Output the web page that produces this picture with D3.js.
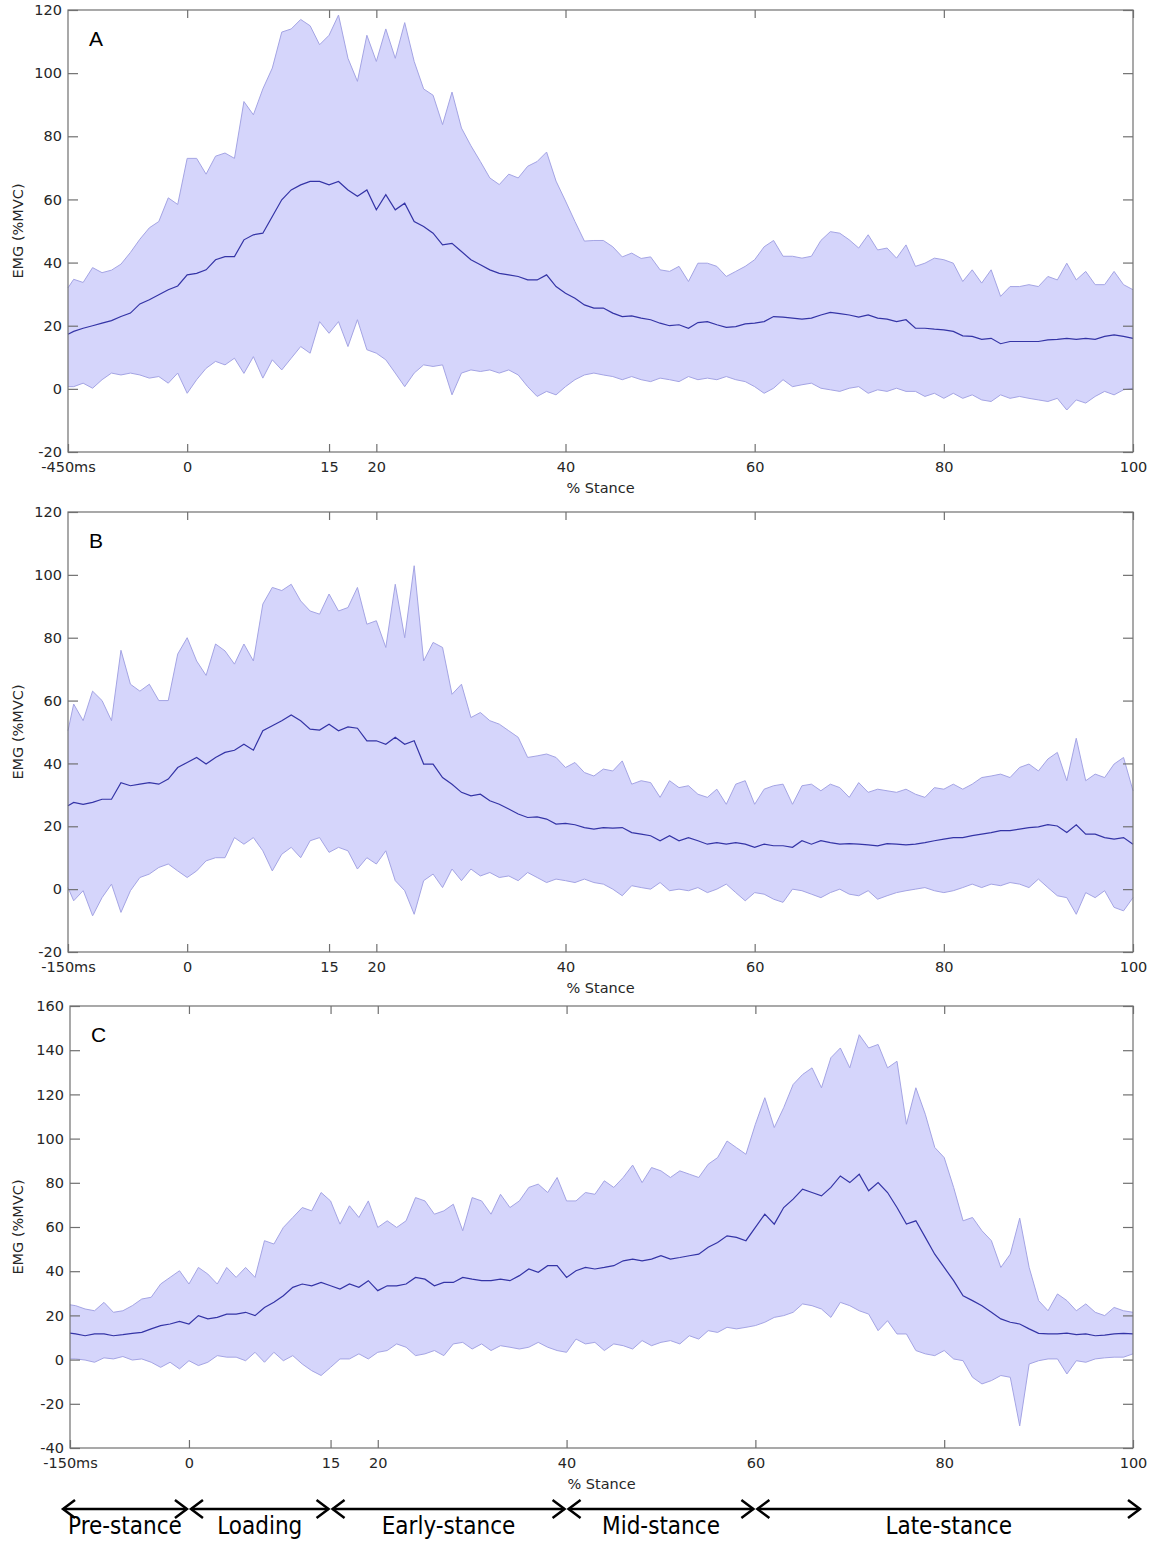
<!DOCTYPE html>
<html>
<head>
<meta charset="utf-8">
<script src="https://cdn.jsdelivr.net/npm/d3@7"></script>
<style>
  body { margin: 0; background: #fff; }
  svg { display: block; }
</style>
</head>
<body>
<div id="chart"></div>
<script>

// sample positions along the stride, % stance (first one is the pre-stance start)
var stance = [-12.6].concat(d3.range(-12, 101))

var xTicks = [0, 15, 20, 40, 60, 80, 100]
var yTicksAB = [-20, 0, 20, 40, 60, 80, 100, 120]
var yTicksC = [-40, -20, 0, 20, 40, 60, 80, 100, 120, 140, 160]

var phaseNames = ['Pre-stance', 'Loading', 'Early-stance', 'Mid-stance', 'Late-stance']
var phaseBounds = [-12.6, 0, 15, 40, 60, 100]

// panel A  (rows of 10: -12.6,-12..-4 | -3..6 | 7..16 | ... | 97..100)
var upperA = [
    32, 34.7, 33.7, 38.4, 36.8, 37.6, 39.5, 43.2, 47.4, 51,
    53, 60.5, 58.4, 73, 73, 68, 73.7, 74.7, 73, 91,
    86.8, 95, 101.6, 113, 114, 117, 115, 109, 112, 118.4,
    104.7, 97.4, 112, 103.7, 114, 104.7, 116, 103.7, 95, 93,
    83.7, 94, 82.6, 77, 72, 66.8, 64.7, 68, 66.8, 70.5,
    72, 75, 65.8, 59.5, 53, 46.8, 47, 47, 45, 41.8,
    43, 41.3, 41.8, 37.7, 37.2, 38.8, 34, 39.8, 39.8, 38.8,
    35.6, 37.2, 38.8, 40.9, 45, 47, 42, 42, 41.4, 42,
    47, 49.8, 49.3, 47.2, 44.6, 48.8, 44, 44.6, 41.4, 45.6,
    38.8, 39.8, 41.4, 40.9, 39.8, 34, 37.7, 33.5, 37.7, 29.3,
    32.4, 32.4, 33, 32.4, 35.6, 34.5, 39.8, 34.5, 37.2, 33,
    33, 37.2, 33, 31.4
]
var meanA = [
    17.3, 18.2, 19.2, 20, 20.8, 21.6, 22.9, 24, 26.9, 28.2,
    29.8, 31.4, 32.6, 36.1, 36.6, 37.7, 40.9, 41.9, 41.9, 47.2,
    48.8, 49.3, 54.6, 59.9, 63, 64.6, 65.7, 65.7, 64.6, 65.7,
    63, 61, 63, 56.7, 61.5, 56.7, 58.8, 53, 51.4, 49.3,
    45.6, 46.1, 43.5, 40.9, 39.3, 37.7, 36.6, 36.1, 35.6, 34.5,
    34.5, 36.1, 32.4, 30.3, 28.7, 26.6, 25.6, 25.6, 24, 22.9,
    23.1, 22.4, 21.9, 20.8, 20, 20.3, 19.2, 21, 21.3, 20.3,
    19.5, 19.7, 20.6, 20.8, 21.3, 22.9, 22.7, 22.4, 22.1, 22.4,
    23.4, 24.2, 23.8, 23.4, 22.7, 23.4, 22.4, 22.1, 21.3, 21.9,
    19.2, 19.2, 18.9, 18.7, 18.2, 16.8, 16.6, 15.7, 16, 14.3,
    15, 15, 15, 15, 15.5, 15.7, 16, 15.7, 16, 15.7,
    16.6, 17.1, 16.6, 16
]
var lowerA = [
    0.7, 0.7, 1.8, 0.2, 2.9, 5, 4.4, 5, 4.4, 3.4,
    3.9, 1.8, 5, -1.4, 2.9, 6.5, 8.7, 7.6, 9.7, 4.9,
    10.2, 3.4, 9.2, 6, 9.7, 13.4, 11.3, 21.3, 17.6, 21.3,
    13.4, 21.9, 12.4, 11.3, 9.2, 5, 0.7, 5, 7.6, 7.1,
    7.6, -1.9, 5, 6, 5.5, 6, 5, 6, 4.4, 0.7,
    -2.4, -0.8, -1.9, 0.7, 2.9, 4.4, 5, 4.4, 3.9, 2.9,
    3.9, 2.9, 2.3, 3.4, 2.9, 2.3, 3.9, 2.9, 3.4, 2.9,
    3.9, 2.9, 2.3, 0.7, -1.4, 0.2, 2.9, 0.7, 1.3, 1.8,
    0.2, -0.3, -0.8, 0.2, 0.7, -1.4, -0.3, -0.8, 0.2, -0.8,
    -0.8, -2.4, -1.4, -3, -1.4, -3, -1.9, -3.5, -4, -1.9,
    -3, -2.4, -3, -3.5, -4, -3, -6.7, -3.5, -4.5, -2.4,
    -0.8, -1.9, -0.3, 0.2
]

// panel B
var upperB = [
    50.4, 58.9, 53.6, 63, 60, 53.6, 76, 65.2, 63, 65.2,
    60, 60, 74.8, 80, 72.6, 68, 78, 75.8, 71.6, 78,
    72.6, 90.7, 96, 95, 97, 91.7, 88.5, 87.5, 93.9, 88.5,
    89.6, 96, 84.3, 85.4, 76.9, 97, 80, 102.9, 72.6, 78.5,
    76.9, 62, 65.2, 54.6, 56.2, 53.6, 52.5, 50.4, 48.3, 41.9,
    42.4, 43, 41.9, 38.7, 40.3, 37.1, 36, 38.2, 37.6, 40.8,
    33.4, 34.5, 33.9, 29.2, 34.5, 32.3, 32.9, 30.2, 29.2, 31.8,
    27, 33.4, 34.5, 27, 31.8, 32.9, 33.4, 27, 32.9, 33.4,
    31.3, 33.4, 32.3, 29.2, 33.9, 30.8, 31.8, 31.3, 30.8, 31.8,
    30.2, 29.2, 32.3, 31.8, 33.4, 31.8, 33.4, 35.5, 36, 36.6,
    35.5, 38.7, 39.8, 37.6, 41.4, 43.5, 34.5, 48, 34.5, 36.6,
    35.5, 39.8, 41.9, 31.3
]
var meanB = [
    26.5, 27.6, 27, 27.6, 28.6, 28.6, 33.9, 32.9, 33.4, 33.9,
    33.4, 35, 38.7, 40.3, 41.9, 39.8, 41.9, 43.5, 44.2, 46.1,
    44.2, 50.4, 52, 53.6, 55.4, 53.6, 50.9, 50.6, 52.5, 50.4,
    51.6, 51.2, 47.2, 47.2, 46.1, 48.3, 46.1, 47.2, 39.8, 39.8,
    35.5, 33.4, 30.8, 29.7, 30.2, 28.1, 27, 25.5, 23.9, 22.8,
    23, 22.3, 20.7, 20.9, 20.5, 19.6, 19.1, 19.6, 19.4, 19.6,
    18, 17.5, 17, 15.4, 17, 15.4, 16.4, 15.4, 14.3, 14.8,
    14.3, 14.8, 14.3, 13.3, 14.3, 13.8, 13.8, 13.3, 15.4, 14.3,
    15.4, 14.8, 14.3, 14.5, 14.3, 14.1, 13.8, 14.5, 14.3, 14.1,
    14.3, 14.8, 15.4, 15.9, 16.4, 16.4, 17, 17.5, 18, 18.6,
    18.6, 19.1, 19.6, 19.8, 20.5, 20.1, 18, 20.5, 17.5, 17.5,
    16.4, 15.9, 16.4, 14.3
]
var lowerB = [
    0.5, -3.7, -0.5, -8.5, -2.7, 1.6, -7.4, -0.5, 3.7, 4.8,
    6.9, 8, 5.8, 3.7, 5.8, 9, 10, 10, 16.4, 14.3,
    16.4, 12.2, 5.8, 11.1, 13.3, 10, 15.4, 16.4, 11.7, 13.3,
    12.2, 6.4, 10, 8, 12.2, 2.7, -0.5, -8, 2.7, 4.8,
    0.5, 6.4, 2.7, 6.4, 4.2, 5.3, 3.7, 4.2, 2.7, 5.3,
    3.7, 2.1, 3.2, 2.7, 2.1, 3.2, 2.1, 1.6, 0, -2.1,
    1.1, 0.5, 0, 2.1, -0.5, 0, -0.5, 0.5, -1.1, 0,
    1.6, -1.1, -3.7, -1.1, -1.6, -3.2, -4.2, 0, -0.5, -1.6,
    -2.7, -1.1, 0, -1.6, -2.1, -0.5, -3.2, -2.1, -1.1, -0.5,
    0, 0.5, -0.5, -1.1, -0.5, 0.5, 1.6, 0.5, 1.6, 1.1,
    2.1, 1.6, 0.5, 3.2, 0.5, -2.1, -2.7, -8, -1.1, -2.7,
    -0.5, -5.8, -6.9, -2.7
]

// panel C
var upperC = [
    24.8, 24.4, 22.9, 22.1, 25.9, 21.4, 22.1, 24.4, 27.4, 28.2,
    34.2, 37.2, 40.2, 34.2, 41.7, 38.7, 34.2, 41.7, 37.2, 41.7,
    37.2, 53.8, 52.3, 59.8, 64.3, 68.8, 67.3, 75.6, 71.8, 61.3,
    69.6, 64.3, 71.8, 59.8, 62.8, 59.8, 62.8, 73.3, 71.8, 65.8,
    67.3, 70.3, 58.3, 73.3, 71.8, 65.8, 74.8, 68.8, 71.8, 77.9,
    79.4, 75.6, 82.4, 71.8, 71.8, 75.6, 74.8, 80.9, 77.9, 82.4,
    88, 80.1, 86.9, 85.4, 82.4, 85.4, 83.9, 82.4, 88.4, 91.4,
    98.9, 95.9, 92.9, 106.5, 118.5, 105, 114, 124.5, 129, 132,
    123, 136.6, 141, 132, 147, 141, 142.6, 132, 135, 106.5,
    123, 111, 96, 91.4, 77.9, 62.8, 64.3, 58.3, 53.8, 41.7,
    47.7, 64, 41.7, 26.7, 22.1, 29.7, 26.7, 22.1, 25.2, 21.4,
    19.9, 23.6, 22.1, 21.4
]
var meanC = [
    12, 11.6, 10.8, 11.6, 11.6, 10.8, 11.3, 11.9, 12.3, 13.9,
    15.4, 16.1, 17.3, 16.1, 19.9, 18.4, 19.1, 20.6, 20.6, 21.4,
    19.9, 23.6, 25.9, 28.9, 32.7, 34.2, 33.4, 34.9, 33.4, 31.9,
    34.2, 32.7, 35.7, 31.2, 33.4, 33.4, 34.2, 37.2, 36.4, 33.4,
    34.9, 34.9, 37.2, 36.4, 35.7, 35.7, 36.4, 35.7, 38, 41,
    39.5, 42.5, 42.5, 37.2, 40.2, 41.7, 41, 41.7, 42.5, 44.7,
    45.5, 44.7, 45.5, 47, 45.5, 46.2, 47, 47.7, 50.8, 53,
    56, 55.3, 53.8, 59.8, 65.8, 61.3, 68.8, 72.6, 77.1, 75.6,
    74.1, 77.9, 83.1, 80.1, 83.9, 76.4, 80.1, 75.6, 68.8, 61.3,
    62.8, 55.3, 47.7, 41.7, 35.7, 28.9, 26.7, 24.4, 21.4, 18.4,
    16.9, 16.1, 13.9, 11.9, 11.6, 11.6, 12, 11.3, 11.6, 10.8,
    11.1, 11.6, 11.9, 11.6
]
var lowerC = [
    0.3, 0.3, -0.2, -1.2, 0.8, 0.3, 1.4, -0.2, 0.3, -1.2,
    -3.5, -1.2, -4.2, -0.5, -2.7, -1.2, 1.8, 1.1, 1.1, -0.5,
    3.3, -1.2, 3.3, -0.5, 1.8, -2, -5, -7.2, -3.5, 0.3,
    0.3, 2.6, 0.3, 3.3, 4.1, 7.1, 5.6, 1.8, 2.6, 4.1,
    1.8, 7.1, 7.8, 4.8, 7.1, 4.1, 6.3, 5.6, 4.8, 5.6,
    7.8, 5.6, 4.1, 3.3, 9.3, 7.1, 7.8, 4.1, 7.1, 6.3,
    4.8, 8.6, 6.3, 7.8, 8.6, 7.1, 10.8, 9.3, 13.1, 12.3,
    14.6, 13.9, 14.6, 15.4, 16.9, 19.1, 19.9, 21.4, 25.2, 24.4,
    22.9, 19.1, 25.9, 24.4, 22.1, 20.6, 13.1, 17.6, 11.6, 11.6,
    4.1, 2.6, 1.8, 4.1, 0.3, -0.5, -8, -11, -9.5, -7.2,
    -8, -30, -2, -0.5, 0.3, 0.3, -6.5, -0.5, -1.2, 0.3,
    0.8, 1.1, 1.1, 2.6
]

var width = 1151
var height = 1542

var panels = [
    { key: 'A', pre: '-450ms', yTicks: yTicksAB, upper: upperA, mean: meanA, lower: lowerA,
      left: 68, right: 1133, top: 10, bottom: 452 },
    { key: 'B', pre: '-150ms', yTicks: yTicksAB, upper: upperB, mean: meanB, lower: lowerB,
      left: 68, right: 1133, top: 512, bottom: 952 },
    { key: 'C', pre: '-150ms', yTicks: yTicksC, upper: upperC, mean: meanC, lower: lowerC,
      left: 70, right: 1133, top: 1006, bottom: 1448 }
]

var axisGrey = '#707070'
var textColor = '#262626'
var tickFont = '"DejaVu Sans", sans-serif'

var svg = d3.select('#chart')
    .append('svg')
    .attr('width', width)
    .attr('height', height)

svg.append('rect')
    .attr('width', width)
    .attr('height', height)
    .attr('fill', '#fff')

var lastX

panels.forEach(function(p) {

    var x = d3.scaleLinear()
        .domain([stance[0], 100])
        .range([p.left, p.right])

    var y = d3.scaleLinear()
        .domain([p.yTicks[0], p.yTicks[p.yTicks.length - 1]])
        .range([p.bottom, p.top])

    lastX = x

    var idx = d3.range(stance.length)
    var g = svg.append('g').attr('class', 'panel panel' + p.key)

    var band = d3.area()
        .x(function(i) { return x(stance[i]) })
        .y0(function(i) { return y(p.lower[i]) })
        .y1(function(i) { return y(p.upper[i]) })

    var edge = function(arr) {
        return d3.line()
            .x(function(i) { return x(stance[i]) })
            .y(function(i) { return y(arr[i]) })
    }

    g.append('path')
        .datum(idx)
        .attr('d', band)
        .attr('fill', '#d5d5fb')

    g.append('path')
        .datum(idx)
        .attr('d', edge(p.upper))
        .attr('fill', 'none')
        .attr('stroke', '#a4a4e4')
        .attr('stroke-width', 1)

    g.append('path')
        .datum(idx)
        .attr('d', edge(p.lower))
        .attr('fill', 'none')
        .attr('stroke', '#a4a4e4')
        .attr('stroke-width', 1)

    g.append('path')
        .datum(idx)
        .attr('d', edge(p.mean))
        .attr('fill', 'none')
        .attr('stroke', '#3434a6')
        .attr('stroke-width', 1.2)

    // box
    g.append('rect')
        .attr('x', p.left)
        .attr('y', p.top)
        .attr('width', p.right - p.left)
        .attr('height', p.bottom - p.top)
        .attr('fill', 'none')
        .attr('stroke', axisGrey)
        .attr('stroke-width', 1.2)

    var xAll = [stance[0]].concat(xTicks)

    var bottomAxis = d3.axisBottom(x)
        .tickValues(xAll)
        .tickSizeInner(-8)
        .tickSizeOuter(0)
        .tickPadding(10)
        .tickFormat(function(d) { return d === stance[0] ? p.pre : String(d) })

    var topAxis = d3.axisTop(x)
        .tickValues(xTicks)
        .tickSizeInner(-8)
        .tickSizeOuter(0)
        .tickFormat('')

    var leftAxis = d3.axisLeft(y)
        .tickValues(p.yTicks)
        .tickSizeInner(-10)
        .tickSizeOuter(0)
        .tickPadding(6)
        .tickFormat(function(d) { return String(d) })

    var rightAxis = d3.axisRight(y)
        .tickValues(p.yTicks)
        .tickSizeInner(-10)
        .tickSizeOuter(0)
        .tickFormat('')

    var axes = [
        g.append('g').attr('transform', 'translate(0,' + p.bottom + ')').call(bottomAxis),
        g.append('g').attr('transform', 'translate(0,' + p.top + ')').call(topAxis),
        g.append('g').attr('transform', 'translate(' + p.left + ',0)').call(leftAxis),
        g.append('g').attr('transform', 'translate(' + p.right + ',0)').call(rightAxis)
    ]

    axes.forEach(function(a) {
        a.select('.domain').remove()
        a.selectAll('.tick line').attr('stroke', axisGrey).attr('stroke-width', 1.2)
        a.selectAll('.tick text')
            .attr('fill', textColor)
            .style('font-family', tickFont)
            .style('font-size', '14.5px')
    })

    g.append('text')
        .attr('x', (p.left + p.right) / 2)
        .attr('y', p.bottom + 41)
        .attr('text-anchor', 'middle')
        .attr('fill', textColor)
        .style('font-family', tickFont)
        .style('font-size', '14.5px')
        .text('% Stance')

    g.append('text')
        .attr('transform', 'translate(18,' + (p.top + p.bottom) / 2 + ') rotate(-90)')
        .attr('text-anchor', 'middle')
        .attr('dy', '0.35em')
        .attr('fill', textColor)
        .style('font-family', tickFont)
        .style('font-size', '14.5px')
        .text('EMG (%MVC)')

    g.append('text')
        .attr('x', p.left + 21)
        .attr('y', p.top + 36)
        .attr('fill', '#000')
        .style('font-family', '"Liberation Sans", Arial, sans-serif')
        .style('font-size', '21px')
        .text(p.key)
})

// gait phase arrows under the last panel
var arrowY = 1509
var head = 12
var arrows = svg.append('g').attr('class', 'phases')

phaseNames.forEach(function(name, i) {
    var x0 = lastX(phaseBounds[i]) + 2
    var x1 = lastX(phaseBounds[i + 1]) - 2
    if (i === 0) x0 = lastX(phaseBounds[0]) - 7
    if (i === phaseNames.length - 1) x1 = lastX(phaseBounds[i + 1]) + 7

    arrows.append('line')
        .attr('x1', x0).attr('x2', x1)
        .attr('y1', arrowY).attr('y2', arrowY)
        .attr('stroke', '#000')
        .attr('stroke-width', 2.5)

    arrows.append('path')
        .attr('d', 'M' + (x0 + head) + ',' + (arrowY - 9) + 'L' + x0 + ',' + arrowY + 'L' + (x0 + head) + ',' + (arrowY + 9))
        .attr('fill', 'none')
        .attr('stroke', '#000')
        .attr('stroke-width', 2.5)

    arrows.append('path')
        .attr('d', 'M' + (x1 - head) + ',' + (arrowY - 9) + 'L' + x1 + ',' + arrowY + 'L' + (x1 - head) + ',' + (arrowY + 9))
        .attr('fill', 'none')
        .attr('stroke', '#000')
        .attr('stroke-width', 2.5)

    arrows.append('text')
        .attr('x', (x0 + x1) / 2)
        .attr('y', 1534)
        .attr('text-anchor', 'middle')
        .attr('fill', '#000')
        .style('font-family', '"DejaVu Sans Condensed", "Liberation Sans Narrow", sans-serif')
        .style('font-size', '24px')
        .text(name)
})

</script>
</body>
</html>
